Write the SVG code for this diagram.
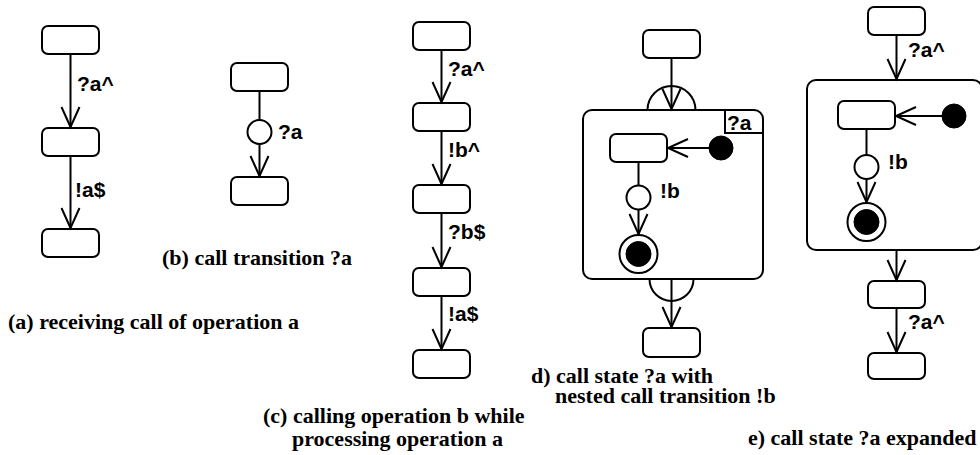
<svg xmlns="http://www.w3.org/2000/svg" width="980" height="455" viewBox="0 0 980 455">
  <style>
    .st { fill: #fff; stroke: #000; stroke-width: 2; }
    .ln { fill: none; stroke: #000; stroke-width: 2; }
    .tr { fill: none; stroke: #000; stroke-width: 2; marker-end: url(#open); }
    .dot { fill: #000; stroke: #000; stroke-width: 1; }
    .lbl { font-family: "Liberation Sans", Arial, sans-serif; font-weight: bold; font-size: 21px; fill: #000; }
    .cap { font-family: "Liberation Serif", "Times New Roman", serif; font-weight: bold; font-size: 22px; fill: #000; }
  </style>
  <defs>
    <!-- open V arrowhead used by all transitions -->
    <marker id="open" markerUnits="userSpaceOnUse" viewBox="-24 -12 28 24" markerWidth="28" markerHeight="24" refX="1" refY="0" orient="auto">
      <path d="M-20,-9 L0,0 L-20,9" fill="none" stroke="#000" stroke-width="2"/>
    </marker>
  </defs>
  <rect width="980" height="455" fill="#fff"/>

  <!-- (a) receiving call of operation a -->
  <g id="a-s1"><rect class="st" x="42" y="26" width="57" height="28" rx="6"/></g>
  <g id="a-s2"><rect class="st" x="42" y="128" width="57" height="28" rx="6"/></g>
  <g id="a-s3"><rect class="st" x="42" y="229" width="57" height="28" rx="6"/></g>

  <!-- (b) call transition -->
  <g id="b-s1"><rect class="st" x="231" y="63" width="57" height="28" rx="6"/></g>
  <g id="b-call"><circle class="st" cx="259.5" cy="132" r="12"/></g>
  <g id="b-s2"><rect class="st" x="231" y="177" width="57" height="28" rx="6"/></g>

  <!-- (c) nested call chain -->
  <g id="c-s1"><rect class="st" x="413" y="22" width="57" height="28" rx="6"/></g>
  <g id="c-s2"><rect class="st" x="413" y="103" width="57" height="28" rx="6"/></g>
  <g id="c-s3"><rect class="st" x="413" y="185" width="57" height="28" rx="6"/></g>
  <g id="c-s4"><rect class="st" x="413" y="268" width="57" height="28" rx="6"/></g>
  <g id="c-s5"><rect class="st" x="413" y="350" width="57" height="28" rx="6"/></g>

  <!-- (d) call state with nested call transition -->
  <g id="d-s1"><rect class="st" x="643" y="30" width="57" height="28" rx="6"/></g>
  <g id="d-callstate">
    <path class="ln" d="M647.5,110 A24,24 0 0 1 695.5,110"/>
    <path class="ln" d="M649.5,279 A22,22 0 0 0 693.5,279"/>
    <rect class="st" x="583" y="110" width="180" height="169" rx="9"/>
    <path class="ln" d="M725,110 V133 H763"/>
    <text class="lbl" x="727" y="130">?a</text>
  </g>
  <g id="d-inner"><rect class="st" x="610" y="134" width="57" height="28" rx="6"/></g>
  <g id="d-init"><circle class="dot" cx="721" cy="148" r="12"/></g>
  <g id="d-call"><circle class="st" cx="638.5" cy="197.5" r="12"/></g>
  <g id="d-final">
    <circle class="st" cx="638.5" cy="254" r="19"/>
    <circle class="dot" cx="638.5" cy="254" r="12.5"/>
  </g>
  <g id="d-s2"><rect class="st" x="643" y="328" width="57" height="29" rx="6"/></g>

  <!-- (e) call state expanded -->
  <g id="e-s1"><rect class="st" x="868" y="7" width="57" height="28" rx="6"/></g>
  <g id="e-callstate"><rect class="st" x="807" y="80" width="175" height="170" rx="9"/></g>
  <g id="e-inner"><rect class="st" x="838" y="101" width="57" height="28" rx="6"/></g>
  <g id="e-init"><circle class="dot" cx="954" cy="116" r="12"/></g>
  <g id="e-call"><circle class="st" cx="866.5" cy="167" r="12"/></g>
  <g id="e-final">
    <circle class="st" cx="866.5" cy="222" r="19"/>
    <circle class="dot" cx="866.5" cy="222" r="12.5"/>
  </g>
  <g id="e-s2"><rect class="st" x="868" y="281" width="57" height="27" rx="6"/></g>
  <g id="e-s3"><rect class="st" x="868" y="353" width="57" height="26" rx="6"/></g>

  <!-- transitions -->
  <g id="connectors">
    <path class="tr" d="M70.5,54 V128"/>
    <path class="tr" d="M70.5,156 V229"/>

    <path class="ln" d="M259.5,91 V120"/>
    <path class="tr" d="M259.5,144 V177"/>

    <path class="tr" d="M441.5,50 V103"/>
    <path class="tr" d="M441.5,131 V185"/>
    <path class="tr" d="M441.5,213 V268"/>
    <path class="tr" d="M441.5,296 V350"/>

    <path class="tr" d="M671.5,58 V110"/>
    <path class="tr" d="M709,148 H667"/>
    <path class="ln" d="M638.5,162 V185.5"/>
    <path class="tr" d="M638.5,209.5 V235"/>
    <path class="tr" d="M671.5,279 V328"/>

    <path class="tr" d="M896.5,35 V80"/>
    <path class="tr" d="M942,116 H895"/>
    <path class="ln" d="M866.5,129 V155"/>
    <path class="tr" d="M866.5,179 V203"/>
    <path class="tr" d="M896.5,250 V281"/>
    <path class="tr" d="M896.5,308 V353"/>
  </g>

  <!-- transition labels -->
  <g id="labels">
    <text class="lbl" x="77" y="91">?a^</text>
    <text class="lbl" x="75" y="197">!a$</text>
    <text class="lbl" x="278" y="139">?a</text>
    <text class="lbl" x="448" y="76">?a^</text>
    <text class="lbl" x="448" y="157">!b^</text>
    <text class="lbl" x="448" y="239">?b$</text>
    <text class="lbl" x="448" y="321">!a$</text>
    <text class="lbl" x="660" y="198">!b</text>
    <text class="lbl" x="908" y="57">?a^</text>
    <text class="lbl" x="888" y="169">!b</text>
    <text class="lbl" x="908" y="329">?a^</text>
  </g>

  <!-- captions -->
  <g id="captions">
    <text class="cap" x="8" y="329">(a) receiving call of operation a</text>
    <text class="cap" x="162" y="265">(b) call transition ?a</text>
    <text class="cap" x="263" y="423">(c) calling operation b while</text>
    <text class="cap" x="292" y="446">processing operation a</text>
    <text class="cap" x="531" y="383">d) call state ?a with</text>
    <text class="cap" x="555" y="403">nested call transition !b</text>
    <text class="cap" x="748" y="445">e) call state ?a expanded</text>
  </g>
</svg>
